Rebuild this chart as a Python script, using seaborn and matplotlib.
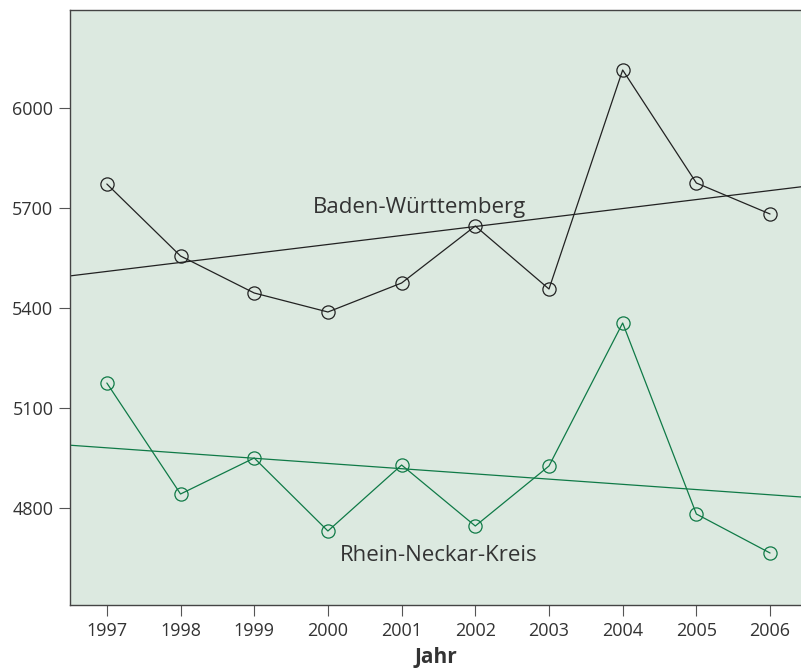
import matplotlib
matplotlib.use("Agg")
import matplotlib.pyplot as plt
import seaborn as sns
import numpy as np
import pandas as pd

years = [1997, 1998, 1999, 2000, 2001, 2002, 2003, 2004, 2005, 2006]
bw_values = [5772, 5556, 5445, 5388, 5475, 5646, 5457, 6114, 5775, 5682]
rnk_values = [5175, 4842, 4950, 4731, 4929, 4746, 4926, 5355, 4782, 4665]
y_ticks = [4800, 5100, 5400, 5700, 6000]
label_bw = "Baden-Württemberg"
label_rnk = "Rhein-Neckar-Kreis"
x_label = "Jahr"

BG = "#dce9e0"
BLACK = "#222222"
GREEN = "#0f7a47"
TEXT = "#333333"

sns.set_theme(style="white")
plt.rcParams['font.family'] = ['Open Sans', 'DejaVu Sans']

df = pd.DataFrame({"Jahr": years, "bw": bw_values, "rnk": rnk_values})

fig = plt.figure(figsize=(8.01, 6.71), dpi=100)
ax = fig.add_axes([70/801, 1-605/671, 1-70/801, (605-10)/671])
ax.set_facecolor(BG)
ax.set_xlim(1996.5, 2006.42)
ax.set_ylim(4509, 6294)

for col, color in (("bw", BLACK), ("rnk", GREEN)):
    sns.regplot(data=df, x="Jahr", y=col, ax=ax, scatter=False, ci=None,
                truncate=False, color=color, line_kws=dict(lw=0.9))
    sns.lineplot(data=df, x="Jahr", y=col, ax=ax, color=color, lw=0.9,
                 marker="o", markersize=9.5, markerfacecolor="none",
                 markeredgecolor=color, markeredgewidth=0.9)

ax.set_xlim(1996.5, 2006.42)
ax.set_ylim(4509, 6294)

ax.text(2001.24, 5700, label_bw, fontsize=16, color=TEXT, ha="center", va="center")
ax.text(2001.51, 4658, label_rnk, fontsize=16, color=TEXT, ha="center", va="center")

ax.set_xticks(years)
ax.set_xticklabels([str(y) for y in years])
ax.set_yticks(y_ticks)
ax.set_yticklabels([str(v) for v in y_ticks])
ax.tick_params(axis="both", direction="out", length=8, width=0.8, color="#555555",
               labelsize=13, labelcolor=TEXT, pad=4, bottom=True, left=True)
ax.set_xlabel(x_label, fontsize=15, fontweight="bold", color=TEXT, labelpad=5)
ax.set_ylabel("")

for s in ("left", "bottom", "top"):
    ax.spines[s].set_color("#444444")
    ax.spines[s].set_linewidth(1.0)
ax.spines["right"].set_visible(False)

fig.savefig("out.png", dpi=100, facecolor="white")
